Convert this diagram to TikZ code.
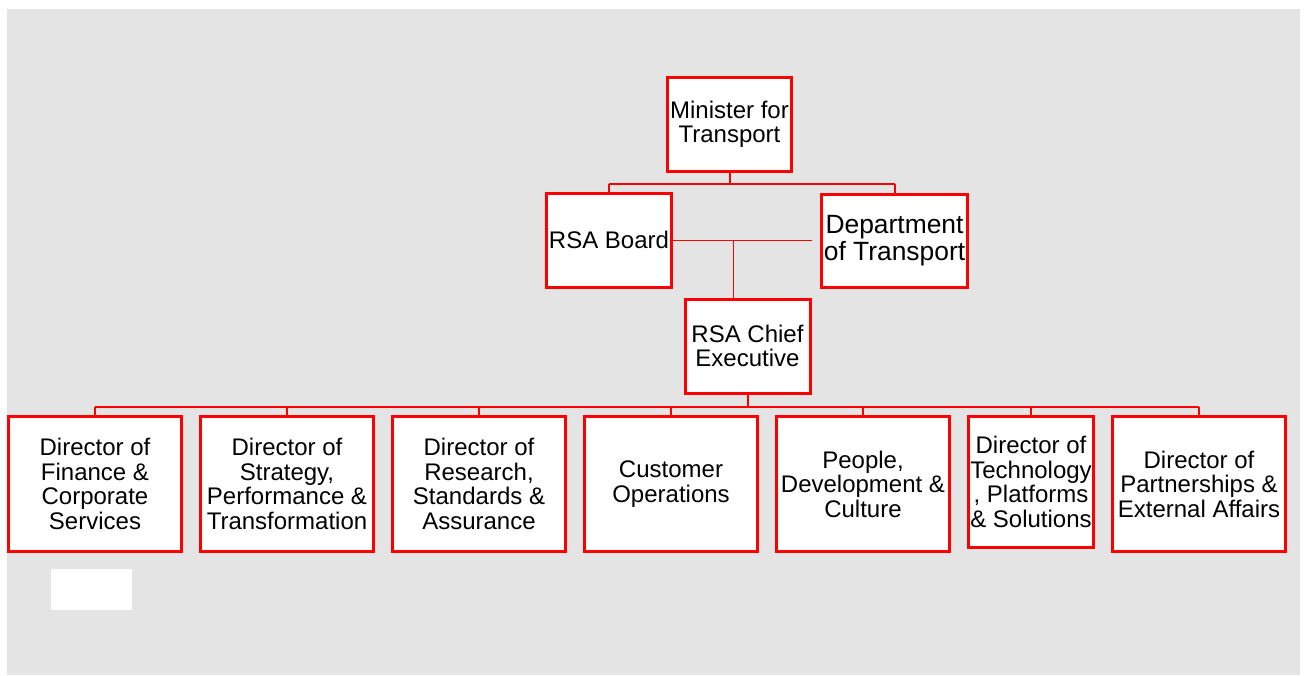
\documentclass[tikz,border=0pt]{standalone}
\usepackage{fontspec}
\setmainfont{Liberation Sans}
\definecolor{bggray}{HTML}{E4E4E4}
\definecolor{boxred}{HTML}{FF0000}
\begin{document}
\begin{tikzpicture}[x=1pt,y=-1pt,
  orgbox/.style={draw=boxred, fill=white, line width=3pt, inner sep=0pt, align=center,
    font=\fontsize{24}{24.5}\selectfont},
  bigtext/.style={font=\fontsize{26.4}{27}\selectfont},
  link/.style={draw=boxred, line width=2pt},
  thinlink/.style={draw=boxred, line width=1pt}]
\useasboundingbox (0,0) rectangle (1306,675);
\fill[white] (0,0) rectangle (1306,675);
\fill[bggray] (7,9) rectangle (1300,675);
\fill[white] (51,569) rectangle (132,610) coordinate (blank);

% top level
\node[orgbox, minimum width=124, minimum height=94] (min) at (729.5,124.5) {Minister for\\Transport};
\node[orgbox, minimum width=125, minimum height=94] (board) at (609,240) {RSA Board};
\node[orgbox, bigtext, minimum width=146, minimum height=93] (dept) at (894.5,240.5) {Department\\of Transport};
\node[orgbox, minimum width=125, minimum height=94] (ce) at (747.5,346) {RSA Chief\\Executive};

% directors
\node[orgbox, minimum width=173, minimum height=135] (d1) at (95,484) {Director of\\Finance \&\\Corporate\\Services};
\node[orgbox, minimum width=173, minimum height=135] (d2) at (287,484) {Director of\\Strategy,\\Performance \&\\Transformation};
\node[orgbox, minimum width=173, minimum height=135] (d3) at (479,484) {Director of\\Research,\\Standards \&\\Assurance};
\node[orgbox, minimum width=173, minimum height=135] (d4) at (671,484) {Customer\\Operations};
\node[orgbox, minimum width=173, minimum height=135] (d5) at (863,484) {People,\\Development \&\\Culture};
\node[orgbox, minimum width=125, minimum height=131] (d6) at (1031,482) {Director of\\Technology\\, Platforms\\\& Solutions};
\node[orgbox, minimum width=173, minimum height=135] (d7) at (1199,484) {Director of\\Partnerships \&\\External Affairs};

% minister connectors
\coordinate (topbus) at (0,184);
\draw[link] (min.south) -- (min.south |- topbus);
\draw[link] (board.north |- topbus) -- (dept.north |- topbus);
\draw[link] (board.north |- topbus) -- (board.north);
\draw[link] (dept.north |- topbus) -- (dept.north);

% board / chief thin lines
\coordinate (lineend) at (811.5,240);
\coordinate (junc) at (733.5,240);
\draw[thinlink] (board.east) -- (lineend);
\draw[thinlink] (junc) -- (junc |- ce.north);

% bottom bus
\coordinate (bus) at (0,407);
\draw[link] (ce.south) -- (ce.south |- bus);
\draw[link] (d1.north |- bus) -- (d7.north |- bus);
\foreach \d in {d1,d2,d3,d4,d5,d6,d7}
  \draw[link] (\d.north |- bus) -- (\d.north);
\end{tikzpicture}
\end{document}
